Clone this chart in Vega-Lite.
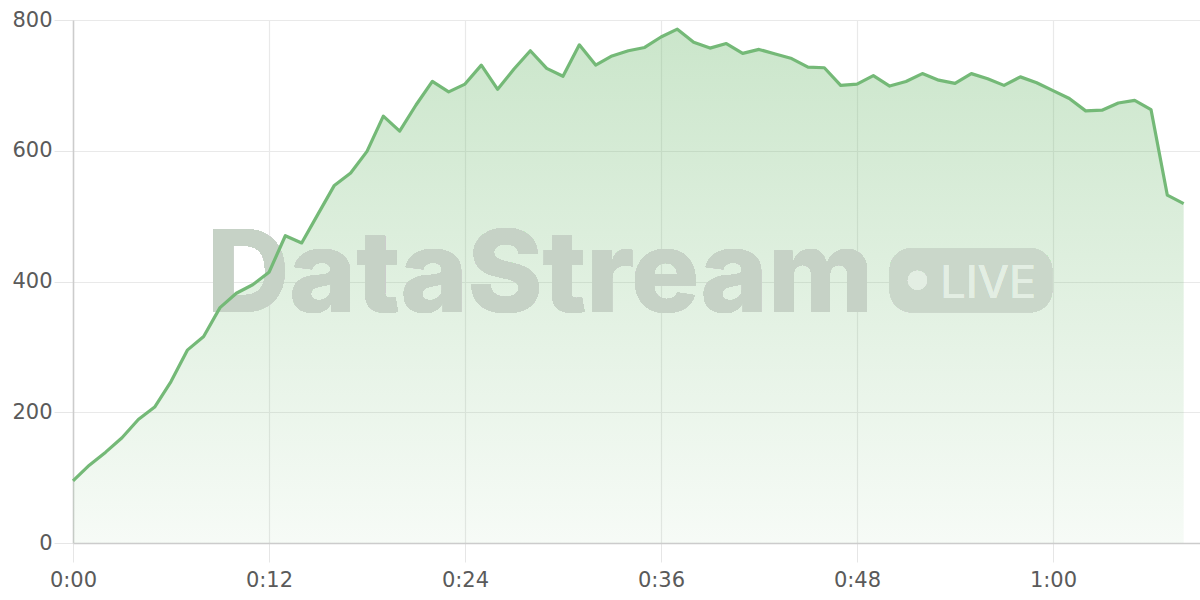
{
  "$schema": "https://vega.github.io/schema/vega-lite/v6.json",
  "width": 1127,
  "height": 523,
  "autosize": {"type": "none"},
  "padding": {"left": 73, "top": 20, "right": 0, "bottom": 57},
  "background": "white",
  "config": {
    "view": {"stroke": null},
    "font": "Inter",
    "axis": {
      "labelFont": "DejaVu Sans",
      "labelFontSize": 21,
      "labelColor": "#5a5a5a",
      "domainColor": "#cccccc",
      "domainWidth": 1.5,
      "tickColor": "#e6e6e6",
      "tickSize": 19,
      "gridColor": "#e9e9e9",
      "gridWidth": 1.2,
      "labelFlush": false,
      "title": null
    }
  },
  "data": {
    "values": [
      {"t": 0, "v": 95}, {"t": 1, "v": 119}, {"t": 2, "v": 139}, {"t": 3, "v": 161},
      {"t": 4, "v": 189}, {"t": 5, "v": 208}, {"t": 6, "v": 247}, {"t": 7, "v": 295},
      {"t": 8, "v": 316}, {"t": 9, "v": 360}, {"t": 10, "v": 382}, {"t": 11, "v": 395},
      {"t": 12, "v": 414}, {"t": 13, "v": 470}, {"t": 14, "v": 459}, {"t": 15, "v": 503},
      {"t": 16, "v": 547}, {"t": 17, "v": 566}, {"t": 18, "v": 599}, {"t": 19, "v": 653},
      {"t": 20, "v": 630}, {"t": 21, "v": 670}, {"t": 22, "v": 706}, {"t": 23, "v": 690},
      {"t": 24, "v": 702}, {"t": 25, "v": 731}, {"t": 26, "v": 694}, {"t": 27, "v": 725},
      {"t": 28, "v": 753}, {"t": 29, "v": 726}, {"t": 30, "v": 714}, {"t": 31, "v": 762},
      {"t": 32, "v": 731}, {"t": 33, "v": 745}, {"t": 34, "v": 753}, {"t": 35, "v": 758},
      {"t": 36, "v": 774}, {"t": 37, "v": 786}, {"t": 38, "v": 766}, {"t": 39, "v": 757},
      {"t": 40, "v": 764}, {"t": 41, "v": 749}, {"t": 42, "v": 755}, {"t": 43, "v": 748},
      {"t": 44, "v": 741}, {"t": 45, "v": 728}, {"t": 46, "v": 727}, {"t": 47, "v": 700},
      {"t": 48, "v": 702}, {"t": 49, "v": 715}, {"t": 50, "v": 699}, {"t": 51, "v": 706},
      {"t": 52, "v": 718}, {"t": 53, "v": 708}, {"t": 54, "v": 703}, {"t": 55, "v": 718},
      {"t": 56, "v": 710}, {"t": 57, "v": 700}, {"t": 58, "v": 713}, {"t": 59, "v": 704},
      {"t": 60, "v": 692}, {"t": 61, "v": 680}, {"t": 62, "v": 661}, {"t": 63, "v": 662},
      {"t": 64, "v": 673}, {"t": 65, "v": 677}, {"t": 66, "v": 663}, {"t": 67, "v": 532},
      {"t": 68, "v": 519}
    ]
  },
  "layer": [
    {
      "mark": {
        "type": "area",
        "fill": {
          "gradient": "linear",
          "x1": 0, "y1": 0, "x2": 0, "y2": 1,
          "stops": [
            {"offset": 0, "color": "rgba(110,185,110,0.36)"},
            {"offset": 1, "color": "rgba(110,185,110,0.06)"}
          ]
        }
      },
      "encoding": {
        "x": {
          "field": "t", "type": "quantitative",
          "scale": {"domain": [0, 69], "nice": false, "zero": false},
          "axis": {
            "values": [0, 12, 24, 36, 48, 60],
            "labelExpr": "floor(datum.value/60) + ':' + (datum.value % 60 < 10 ? '0' : '') + (datum.value % 60)",
            "labelPadding": 7,
            "grid": true
          }
        },
        "y": {
          "field": "v", "type": "quantitative",
          "scale": {"domain": [0, 800], "nice": false},
          "axis": {"values": [0, 200, 400, 600, 800], "labelPadding": 2, "grid": true}
        }
      }
    },
    {
      "mark": {"type": "rect", "cornerRadius": 22, "fill": "#cad7ca"},
      "encoding": {
        "x": {"datum": 50.0, "type": "quantitative"},
        "x2": {"datum": 59.95},
        "y": {"datum": 353, "type": "quantitative"},
        "y2": {"datum": 451}
      }
    },
    {
      "mark": {"type": "text", "text": "DataStream", "font": "Inter", "fontWeight": 800, "fontSize": 114, "align": "center", "baseline": "alphabetic", "fill": "#c6d2c6"},
      "encoding": {
        "x": {"datum": 28.6, "type": "quantitative"},
        "y": {"datum": 353, "type": "quantitative"}
      }
    },
    {
      "mark": {"type": "text", "text": "LIVE", "font": "Inter", "fontWeight": 400, "fontSize": 45, "align": "left", "baseline": "alphabetic", "fill": "#e3eee3"},
      "encoding": {
        "x": {"datum": 53.1, "type": "quantitative"},
        "y": {"datum": 375, "type": "quantitative"}
      }
    },
    {
      "mark": {"type": "point", "filled": true, "size": 360, "shape": "circle", "strokeWidth": 0, "fill": "#e3eee3", "opacity": 1},
      "encoding": {
        "x": {"datum": 51.7, "type": "quantitative"},
        "y": {"datum": 402, "type": "quantitative"}
      }
    },
    {
      "mark": {"type": "line", "stroke": "#74b977", "strokeWidth": 3.2, "strokeJoin": "round"},
      "encoding": {
        "x": {"field": "t", "type": "quantitative"},
        "y": {"field": "v", "type": "quantitative"}
      }
    }
  ]
}
